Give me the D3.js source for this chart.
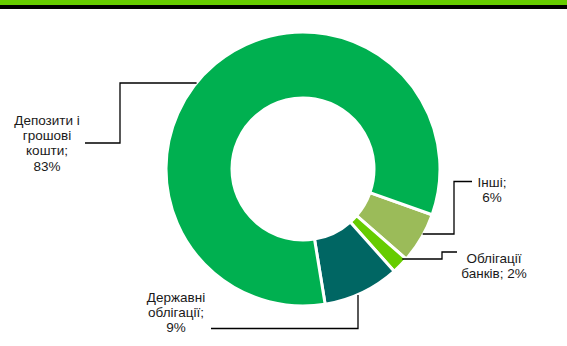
<!DOCTYPE html>
<html>
<head>
<meta charset="utf-8">
<script src="https://cdn.jsdelivr.net/npm/d3@7"></script>
<style>
  body { margin: 0; background: #fff; }
  svg { display: block; font-family: 'Liberation Sans', Arial, sans-serif; }
</style>
</head>
<body>
<div id="chart"></div>
<script>
// portfolio structure (clockwise, starting from "Інші")
const categories = ['Інші', 'Облігації банків', 'Державні облігації', 'Депозити і грошові кошти']
const shares = [6, 2, 9, 83]
const labelLines = [
  ['Інші;', '6%'],
  ['Облігації', 'банків; 2%'],
  ['Державні', 'облігації;', '9%'],
  ['Депозити і', 'грошові', 'кошти;', '83%']
]
const colors = ['#9BBB59', '#66CC00', '#006663', '#00B050']

const width = 567
const height = 346
const cx = 303
const cy = 169
const rOuter = 137
const rInner = 71
const startDeg = 109.5

const svg = d3.select('#chart')
  .append('svg')
  .attr('width', width)
  .attr('height', height)

// header strip
svg.append('rect').attr('x', 0).attr('y', 0).attr('width', width).attr('height', 5).attr('fill', '#66CC00')
svg.append('rect').attr('x', 0).attr('y', 5).attr('width', width).attr('height', 4).attr('fill', '#000')

const pie = d3.pie()
  .sort(null)
  .value((d) => d)
  .startAngle(startDeg * Math.PI / 180)
  .endAngle(startDeg * Math.PI / 180 + 2 * Math.PI)

const arcs = pie(shares)

const arc = d3.arc().innerRadius(rInner).outerRadius(rOuter)

const g = svg.append('g').attr('transform', `translate(${cx},${cy})`)

g.selectAll('path')
  .data(arcs)
  .enter()
  .append('path')
  .attr('id', (d, i) => 'slice' + i)
  .attr('d', arc)
  .attr('fill', (d, i) => colors[i])
  .attr('stroke', '#fff')
  .attr('stroke-width', 3)

// label layout: where along the slice the leader starts, elbows, text centre / first baseline
// vertical = first leg of the leader goes up/down from the slice, otherwise sideways
const layout = [
  { frac: 0.41, r: 136, vertical: false, pts: [[454, 234], [454, 181.5], [472, 181.5]], tx: 492, ty: 186.5 },
  { frac: 0.15, r: 134, vertical: false, pts: [[442, 259], [442, 252], [457, 252]], tx: 494, ty: 263 },
  { frac: 0.57, r: 137, vertical: true, pts: [[358, 328.5], [211, 328.5]], tx: 176, ty: 301.5 },
  { frac: 0.463, r: 137, vertical: false, pts: [[120, 83], [120, 143], [85, 143]], tx: 47, ty: 125 }
]

const lineGen = d3.line()

arcs.forEach(function (a, i) {
  const L = layout[i]
  const ang = a.startAngle + (a.endAngle - a.startAngle) * L.frac
  const p0 = [cx + Math.sin(ang) * L.r, cy - Math.cos(ang) * L.r]
  const first = L.pts[0]
  const start = L.vertical ? [first[0], p0[1]] : [p0[0], first[1]]

  svg.append('path')
    .attr('d', lineGen([start].concat(L.pts)))
    .attr('fill', 'none')
    .attr('stroke', '#000')
    .attr('stroke-width', 1.3)

  const t = svg.append('text')
    .attr('x', L.tx)
    .attr('y', L.ty)
    .attr('text-anchor', 'middle')
    .attr('font-size', '13.5px')
    .attr('fill', '#1a1a1a')
  labelLines[i].forEach(function (s, k) {
    t.append('tspan')
      .attr('x', L.tx)
      .attr('dy', k === 0 ? 0 : 15.2)
      .text(s)
  })
})
</script>
</body>
</html>
